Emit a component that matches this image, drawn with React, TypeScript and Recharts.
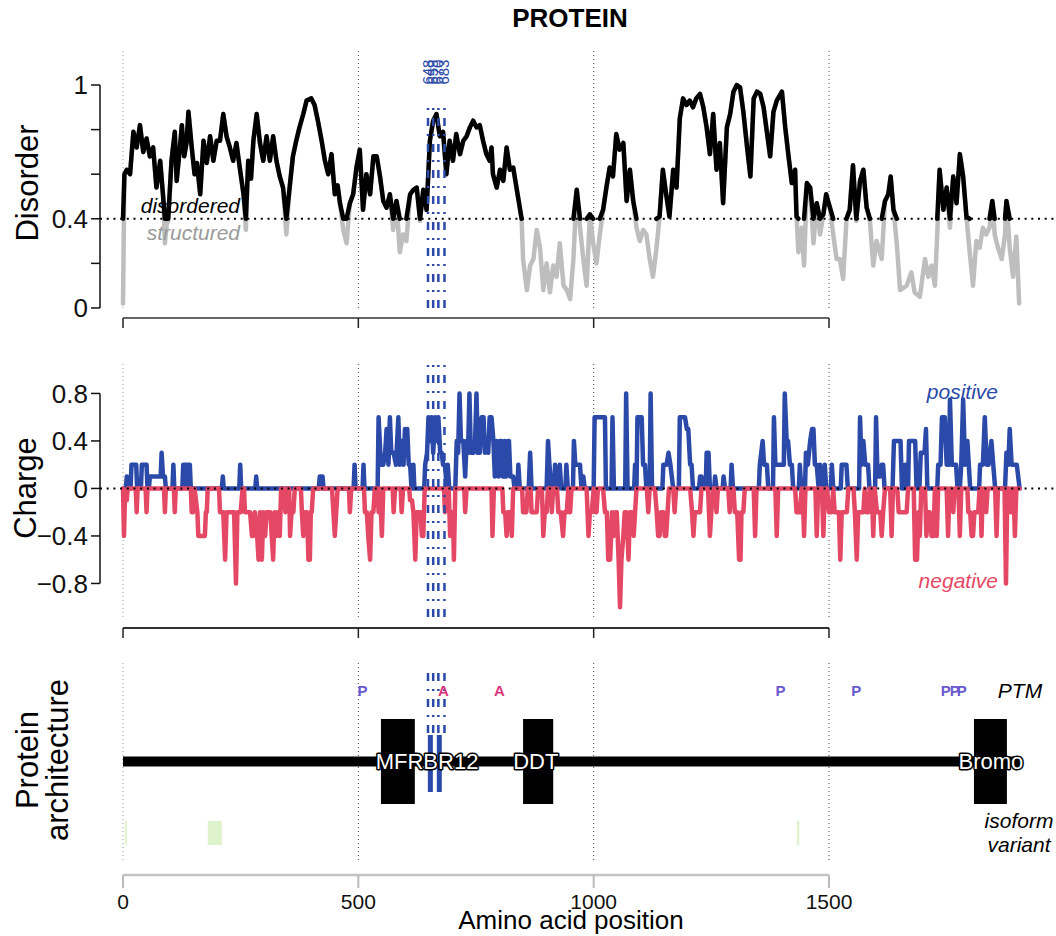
import React from 'react';
import { ComposedChart, Line, XAxis, YAxis, ReferenceLine, ReferenceArea, ReferenceDot } from 'recharts';

const FONT = '"Liberation Sans", Arial, Helvetica, sans-serif';
const X_DOMAIN: [number, number] = [-48.9, 1982.3];
const X_TICKS = [0, 500, 1000, 1500];
const PROTEIN_LENGTH = 1905;
const THRESH = 0.4;

const BLUE = '#2a49a8';
const RED = '#e54864';
const GRAY = '#bebebe';

// disorder score along the sequence (aa position, score)
const disorderPos = [
  0, 3, 8, 15, 22, 29, 36, 43, 50, 57, 64, 71, 79, 86, 89, 93, 96, 103, 110, 114,
  120, 125, 130, 135, 139, 146, 152, 157, 164, 171, 178, 185, 192, 199, 206, 213, 220, 227, 234, 241,
  248, 256, 261, 266, 272, 277, 284, 291, 298, 305, 312, 319, 326, 333, 340, 347, 354, 361, 368, 375,
  383, 390, 400, 407, 414, 422, 429, 436, 443, 450, 456, 461, 468, 475, 482, 489, 496, 503, 510, 517,
  525, 532, 539, 546, 553, 560, 567, 574, 581, 588, 595, 602, 610, 617, 624, 631, 638, 645, 652, 659,
  666, 673, 680, 687, 694, 701, 708, 716, 723, 730, 737, 744, 751, 758, 765, 772, 779, 783, 786, 794,
  801, 808, 815, 822, 829, 836, 843, 847, 850, 858, 865, 872, 879, 886, 893, 900, 907, 914, 921, 928,
  936, 943, 950, 957, 964, 971, 978, 985, 992, 999, 1006, 1013, 1020, 1027, 1034, 1041, 1048, 1055, 1063, 1070,
  1077, 1084, 1091, 1098, 1105, 1112, 1119, 1126, 1133, 1140, 1147, 1154, 1161, 1169, 1176, 1183, 1190, 1197, 1204, 1211,
  1218, 1226, 1233, 1240, 1247, 1254, 1261, 1268, 1275, 1283, 1290, 1297, 1304, 1311, 1318, 1326, 1333, 1340, 1347, 1354,
  1361, 1368, 1375, 1382, 1389, 1400, 1407, 1414, 1421, 1428, 1431, 1435, 1442, 1447, 1453, 1460, 1467, 1474, 1481, 1488,
  1494, 1502, 1509, 1516, 1523, 1530, 1537, 1544, 1551, 1558, 1566, 1573, 1580, 1587, 1594, 1601, 1612, 1619, 1626, 1631,
  1637, 1644, 1651, 1665, 1675, 1682, 1693, 1704, 1711, 1718, 1725, 1730, 1735, 1743, 1750, 1757, 1764, 1771, 1778, 1785,
  1792, 1799, 1806, 1813, 1820, 1827, 1834, 1841, 1847, 1852, 1859, 1867, 1874, 1877, 1884, 1891, 1898, 1904,
];
const disorderVal = [
  0.02, 0.6, 0.62, 0.6, 0.79, 0.72, 0.82, 0.7, 0.76, 0.68, 0.72, 0.54, 0.66, 0.48, 0.29, 0.38, 0.39, 0.66, 0.79, 0.57,
  0.7, 0.82, 0.68, 0.74, 0.88, 0.72, 0.6, 0.65, 0.51, 0.75, 0.65, 0.77, 0.66, 0.75, 0.75, 0.87, 0.77, 0.72, 0.66, 0.74,
  0.63, 0.51, 0.35, 0.66, 0.58, 0.75, 0.87, 0.74, 0.66, 0.77, 0.66, 0.77, 0.66, 0.59, 0.54, 0.33, 0.54, 0.68, 0.75, 0.81,
  0.87, 0.93, 0.94, 0.91, 0.84, 0.75, 0.66, 0.6, 0.69, 0.51, 0.55, 0.47, 0.35, 0.29, 0.47, 0.51, 0.63, 0.71, 0.44, 0.6,
  0.51, 0.68, 0.68, 0.59, 0.48, 0.45, 0.51, 0.35, 0.48, 0.25, 0.33, 0.3, 0.51, 0.53, 0.54, 0.39, 0.53, 0.44, 0.75, 0.84,
  0.87, 0.77, 0.79, 0.6, 0.75, 0.66, 0.78, 0.69, 0.75, 0.77, 0.81, 0.84, 0.81, 0.82, 0.75, 0.69, 0.66, 0.72, 0.6, 0.54,
  0.62, 0.57, 0.72, 0.62, 0.63, 0.54, 0.45, 0.39, 0.22, 0.08, 0.19, 0.22, 0.35, 0.27, 0.08, 0.2, 0.07, 0.19, 0.14, 0.29,
  0.1, 0.08, 0.04, 0.22, 0.53, 0.36, 0.22, 0.1, 0.42, 0.29, 0.2, 0.33, 0.44, 0.54, 0.63, 0.59, 0.78, 0.71, 0.74, 0.48,
  0.62, 0.48, 0.36, 0.3, 0.35, 0.33, 0.22, 0.14, 0.26, 0.41, 0.62, 0.51, 0.41, 0.62, 0.54, 0.85, 0.94, 0.91, 0.93, 0.9,
  0.94, 0.96, 0.9, 0.81, 0.69, 0.87, 0.62, 0.74, 0.47, 0.81, 0.87, 0.97, 1.0, 0.99, 0.88, 0.72, 0.59, 0.94, 0.97, 0.96,
  0.9, 0.79, 0.68, 0.88, 0.93, 0.97, 0.81, 0.68, 0.56, 0.62, 0.41, 0.25, 0.36, 0.19, 0.56, 0.54, 0.29, 0.47, 0.33, 0.42,
  0.51, 0.45, 0.33, 0.22, 0.22, 0.13, 0.39, 0.44, 0.64, 0.39, 0.57, 0.62, 0.45, 0.39, 0.19, 0.3, 0.22, 0.48, 0.51, 0.59,
  0.44, 0.29, 0.08, 0.1, 0.16, 0.07, 0.05, 0.22, 0.14, 0.19, 0.1, 0.33, 0.62, 0.44, 0.54, 0.36, 0.59, 0.47, 0.69, 0.59,
  0.41, 0.25, 0.1, 0.3, 0.27, 0.36, 0.33, 0.36, 0.48, 0.33, 0.27, 0.22, 0.33, 0.48, 0.27, 0.14, 0.32, 0.02,
];

// positive charge fraction (aa position, value)
const posChargePos = [
  0, 6, 8, 10, 16, 18, 28, 30, 38, 40, 50, 52, 55, 57, 72, 80, 82, 85, 89, 91,
  105, 107, 109, 126, 128, 134, 136, 138, 142, 144, 210, 212, 214, 247, 249, 251, 281, 283, 285, 416,
  418, 424, 426, 490, 492, 494, 509, 511, 513, 541, 543, 548, 553, 557, 560, 564, 567, 570, 575, 580,
  585, 588, 592, 596, 599, 602, 604, 607, 610, 613, 615, 617, 619, 640, 642, 646, 649, 652, 656, 659,
  663, 666, 670, 674, 677, 680, 684, 688, 690, 693, 706, 709, 712, 715, 718, 723, 727, 730, 733, 736,
  739, 745, 748, 751, 754, 758, 762, 766, 769, 772, 776, 779, 783, 787, 790, 794, 798, 801, 804, 807,
  811, 814, 818, 820, 823, 829, 832, 838, 840, 843, 862, 865, 868, 900, 903, 906, 910, 916, 918, 921,
  926, 928, 931, 940, 942, 945, 956, 958, 961, 968, 971, 974, 978, 981, 1000, 1002, 1012, 1015, 1024, 1026,
  1038, 1040, 1043, 1067, 1069, 1072, 1086, 1088, 1091, 1093, 1102, 1105, 1109, 1112, 1119, 1121, 1124, 1146, 1148, 1155,
  1159, 1163, 1166, 1169, 1181, 1183, 1194, 1198, 1201, 1205, 1208, 1211, 1224, 1226, 1229, 1232, 1238, 1240, 1244, 1247,
  1256, 1258, 1261, 1274, 1276, 1279, 1291, 1293, 1296, 1351, 1353, 1359, 1362, 1368, 1371, 1381, 1383, 1386, 1393, 1396,
  1404, 1406, 1410, 1413, 1417, 1421, 1424, 1436, 1438, 1441, 1449, 1451, 1455, 1460, 1464, 1467, 1470, 1474, 1478, 1481,
  1484, 1489, 1491, 1494, 1504, 1506, 1509, 1525, 1527, 1537, 1540, 1564, 1566, 1569, 1573, 1577, 1583, 1586, 1598, 1600,
  1603, 1608, 1612, 1615, 1618, 1635, 1638, 1652, 1655, 1660, 1662, 1665, 1668, 1670, 1683, 1686, 1692, 1695, 1703, 1706,
  1709, 1730, 1732, 1737, 1740, 1746, 1750, 1755, 1757, 1761, 1770, 1773, 1778, 1781, 1785, 1789, 1794, 1797, 1800, 1819,
  1821, 1827, 1831, 1835, 1839, 1845, 1849, 1853, 1874, 1877, 1881, 1884, 1888, 1893, 1899, 1905,
];
const posChargeVal = [
  0, 0, 0.1, 0, 0, 0.2, 0.2, 0, 0, 0.2, 0.2, 0, 0, 0.1, 0.1, 0.1, 0.3, 0.1, 0.1, 0,
  0, 0.2, 0, 0, 0.2, 0.2, 0, 0.2, 0.2, 0, 0, 0.1, 0, 0, 0.2, 0, 0, 0.1, 0, 0,
  0.1, 0.1, 0, 0, 0.2, 0, 0, 0.2, 0, 0, 0.6, 0.2, 0.2, 0.3, 0.5, 0.2, 0.6, 0.3, 0.3, 0.2,
  0.6, 0.2, 0.4, 0.2, 0.5, 0.3, 0.5, 0.2, 0.2, 0, 0, 0.2, 0, 0, 0.2, 0.3, 0.6, 0.4, 0.6, 0.3,
  0.6, 0.4, 0.6, 0.3, 0.3, 0.2, 0.2, 0, 0.2, 0, 0, 0.4, 0.3, 0.8, 0.4, 0.4, 0.1, 0.4, 0.3, 0.8,
  0.3, 0.3, 0.4, 0.8, 0.3, 0.3, 0.6, 0.6, 0.3, 0.4, 0.3, 0.6, 0.6, 0.4, 0.1, 0.4, 0.1, 0.4, 0.4, 0.1,
  0.4, 0.1, 0.4, 0.4, 0.1, 0.1, 0, 0, 0.2, 0, 0, 0.3, 0, 0, 0.4, 0.2, 0, 0, 0.2, 0,
  0, 0.2, 0, 0, 0.2, 0, 0, 0.4, 0.2, 0.2, 0.2, 0, 0.1, 0, 0, 0.6, 0.6, 0.6, 0.6, 0,
  0, 0.6, 0, 0, 0.8, 0, 0, 0.2, 0, 0.6, 0.6, 0.2, 0.2, 0, 0, 0.8, 0, 0, 0.2, 0.2,
  0.3, 0.2, 0.1, 0, 0, 0.6, 0.6, 0.5, 0.5, 0.2, 0.2, 0, 0, 0.1, 0.1, 0, 0, 0.3, 0.3, 0,
  0, 0.1, 0, 0, 0.1, 0, 0, 0.2, 0, 0, 0.2, 0.4, 0.2, 0.2, 0, 0, 0.6, 0.2, 0.2, 0.2,
  0.2, 0.8, 0.4, 0.4, 0.2, 0.2, 0, 0, 0.2, 0, 0, 0.3, 0.2, 0.4, 0.5, 0.5, 0.2, 0.2, 0, 0.2,
  0, 0, 0.2, 0, 0, 0.2, 0, 0, 0.2, 0.2, 0, 0, 0.6, 0.2, 0.4, 0.2, 0.2, 0, 0, 0.6,
  0.1, 0.1, 0.2, 0.2, 0, 0, 0.4, 0.4, 0, 0, 0.2, 0, 0, 0.4, 0.4, 0, 0, 0.3, 0.3, 0.5,
  0, 0, 0.2, 0.2, 0.6, 0.6, 0.2, 0.2, 0.75, 0.2, 0.2, 0, 0, 0.2, 0.75, 0.2, 0.4, 0.2, 0, 0,
  0.2, 0.2, 0.6, 0.2, 0.2, 0.4, 0.2, 0, 0, 0.3, 0.2, 0.5, 0.2, 0.2, 0.2, 0,
];

// negative charge fraction (aa position, value)
const negChargePos = [
  0, 2, 4, 8, 10, 27, 29, 31, 48, 50, 52, 87, 89, 91, 108, 110, 112, 144, 146, 149,
  152, 158, 160, 174, 176, 178, 180, 204, 206, 213, 217, 220, 227, 233, 236, 240, 243, 250, 254, 257,
  259, 262, 266, 270, 274, 277, 280, 285, 288, 291, 295, 298, 302, 305, 309, 313, 316, 319, 322, 326,
  329, 333, 336, 340, 345, 348, 353, 355, 358, 362, 365, 378, 380, 383, 387, 391, 394, 397, 399, 401,
  404, 444, 447, 450, 453, 456, 480, 482, 485, 512, 514, 518, 521, 525, 528, 532, 535, 541, 543, 547,
  548, 550, 553, 573, 575, 578, 590, 592, 595, 608, 610, 614, 617, 621, 624, 628, 632, 635, 638, 641,
  682, 684, 687, 692, 695, 698, 701, 703, 706, 725, 727, 730, 783, 785, 788, 806, 808, 812, 815, 818,
  823, 826, 829, 848, 850, 857, 860, 866, 868, 872, 876, 879, 882, 890, 893, 896, 900, 903, 909, 911,
  914, 922, 925, 930, 935, 938, 943, 946, 948, 950, 953, 985, 987, 989, 992, 996, 1000, 1004, 1006, 1009,
  1020, 1024, 1028, 1031, 1035, 1039, 1042, 1046, 1049, 1053, 1056, 1059, 1063, 1066, 1070, 1074, 1077, 1082, 1085, 1088,
  1091, 1113, 1116, 1119, 1130, 1134, 1137, 1140, 1143, 1148, 1151, 1154, 1157, 1160, 1169, 1172, 1175, 1205, 1209, 1212,
  1215, 1219, 1222, 1226, 1229, 1243, 1245, 1247, 1250, 1254, 1258, 1261, 1264, 1286, 1289, 1292, 1297, 1300, 1305, 1309,
  1312, 1314, 1318, 1321, 1340, 1343, 1346, 1386, 1389, 1392, 1428, 1431, 1438, 1442, 1444, 1447, 1450, 1471, 1474, 1477,
  1485, 1488, 1491, 1496, 1500, 1506, 1509, 1512, 1516, 1521, 1524, 1527, 1531, 1535, 1538, 1541, 1552, 1555, 1559, 1562,
  1566, 1570, 1573, 1576, 1580, 1584, 1587, 1591, 1594, 1597, 1602, 1606, 1609, 1612, 1615, 1619, 1630, 1633, 1636, 1645,
  1648, 1651, 1655, 1658, 1662, 1665, 1668, 1680, 1683, 1687, 1690, 1693, 1696, 1704, 1707, 1710, 1714, 1718, 1722, 1725,
  1729, 1732, 1750, 1753, 1756, 1761, 1764, 1767, 1775, 1778, 1781, 1794, 1796, 1800, 1803, 1806, 1809, 1813, 1817, 1820,
  1822, 1824, 1827, 1831, 1834, 1837, 1853, 1856, 1859, 1873, 1876, 1879, 1884, 1886, 1890, 1892, 1895, 1898, 1905,
];
const negChargeVal = [
  0, -0.4, -0.1, -0.1, 0, 0, -0.2, 0, 0, -0.2, 0, 0, -0.2, 0, 0, -0.2, 0, 0, -0.2, -0.2,
  0, -0.2, -0.4, -0.4, -0.2, -0.2, 0, 0, -0.2, -0.2, -0.6, -0.2, -0.2, -0.2, -0.2, -0.8, -0.2, -0.2, 0, 0,
  -0.2, -0.2, -0.2, -0.2, -0.4, -0.4, -0.2, -0.4, -0.6, -0.2, -0.6, -0.2, -0.4, -0.2, -0.2, -0.2, -0.4, -0.6, -0.2, -0.4,
  -0.2, -0.4, 0, 0, -0.2, 0, 0, -0.4, -0.2, -0.2, 0, 0, -0.2, -0.4, -0.2, -0.2, -0.6, -0.6, -0.2, -0.2,
  0, 0, -0.2, -0.4, -0.2, 0, 0, -0.2, 0, 0, -0.2, -0.2, -0.4, -0.6, -0.2, -0.2, 0, 0, -0.2, 0,
  -0.2, -0.4, 0, 0, -0.2, 0, 0, -0.2, 0, 0, -0.1, -0.1, -0.2, -0.6, -0.2, -0.2, -0.2, -0.4, -0.4, 0,
  0, -0.2, 0, 0, -0.4, -0.2, -0.2, -0.6, 0, 0, -0.2, 0, 0, -0.4, 0, 0, -0.2, -0.2, -0.4, -0.2,
  -0.2, -0.4, 0, 0, -0.2, -0.2, 0, 0, -0.2, -0.2, -0.2, -0.2, 0, 0, -0.4, -0.2, -0.2, 0, 0, -0.2,
  0, 0, -0.2, -0.2, -0.4, -0.2, -0.2, 0, -0.2, -0.2, 0, 0, -0.2, -0.4, -0.2, -0.2, 0, -0.2, -0.2, 0,
  0, -0.2, -0.2, -0.6, -0.6, -0.2, -0.4, -0.2, -0.2, -0.6, -1.0, -0.6, -0.4, -0.2, -0.2, -0.6, -0.2, -0.2, -0.4, -0.2,
  0, 0, -0.2, 0, 0, -0.2, -0.4, -0.4, -0.2, -0.2, -0.4, -0.4, -0.2, 0, 0, -0.2, 0, 0, -0.2, -0.4,
  -0.2, -0.2, -0.2, -0.2, 0, 0, -0.2, -0.4, -0.2, 0, 0, -0.2, 0, 0, -0.2, 0, 0, -0.2, -0.2, -0.6,
  -0.6, -0.2, -0.2, 0, 0, -0.4, 0, 0, -0.4, 0, 0, -0.2, -0.2, 0, 0, -0.4, 0, 0, -0.4, 0,
  0, -0.4, 0, 0, -0.2, -0.2, 0, -0.2, -0.2, -0.2, -0.6, -0.2, -0.2, -0.2, -0.2, 0, 0, -0.2, -0.6, -0.2,
  -0.2, -0.2, -0.2, 0, -0.2, -0.2, 0, 0, -0.4, 0, -0.2, -0.2, -0.2, -0.4, -0.2, 0, 0, -0.4, 0, 0,
  -0.2, -0.2, -0.2, -0.2, -0.2, -0.2, 0, 0, -0.6, -0.6, -0.2, -0.4, 0, 0, -0.4, -0.2, -0.2, -0.4, -0.4, 0,
  -0.4, 0, 0, -0.4, 0, 0, -0.2, 0, 0, -0.4, 0, 0, -0.2, -0.2, -0.4, -0.4, -0.2, -0.2, -0.2, 0,
  0, -0.4, 0, 0, -0.2, 0, 0, -0.4, 0, 0, -0.8, 0, 0, -0.2, 0, 0, -0.4, 0, 0,
];

// protein architecture
const domainStart = [548, 850, 1808];
const domainEnd = [620, 914, 1878];
const domainLabels = ['MFRBR12', 'DDT', 'Bromo'];
const domainLabelPos = [646, 877, 1844];

const ptmPos = [509, 681, 800, 1397, 1558, 1748, 1767, 1782];
const ptmType = ['P', 'A', 'A', 'P', 'P', 'P', 'P', 'P'];

const isoformStart = [4, 180, 1432];
const isoformEnd = [8, 210, 1437];

const variantPos = [648, 659, 670, 683];
const variantLabels = ['648', '659', '670', '683'];
const variantBarPos = [653, 672];

const disorderRows = disorderPos.map((x, i) => {
  const v = disorderVal[i];
  const prev = i > 0 ? disorderVal[i - 1] : -1;
  const next = i < disorderVal.length - 1 ? disorderVal[i + 1] : -1;
  let hi: number | null = null;
  if (v >= THRESH) hi = v;
  else if (prev >= THRESH || next >= THRESH) hi = THRESH;
  return { x, d: v, hi };
});

const chargeRows = [
  ...posChargePos.map((x, i) => ({ x, pos: posChargeVal[i] as number | undefined, neg: undefined as number | undefined })),
  ...negChargePos.map((x, i) => ({ x, pos: undefined as number | undefined, neg: negChargeVal[i] as number | undefined })),
].sort((a, b) => a.x - b.x);

const backboneRows = [
  { x: 0, y: 2.27 },
  { x: PROTEIN_LENGTH, y: 2.27 },
];

const PTM_COLORS: Record<string, string> = { P: '#6a5acd', A: '#d9367a' };

const gridLines = (y1: number, y2: number) =>
  X_TICKS.map((t) => (
    <ReferenceLine
      key={`g${t}`}
      segment={[{ x: t, y: y1 }, { x: t, y: y2 }]}
      stroke={t === 0 ? '#999' : '#444'}
      strokeDasharray="1 3"
      strokeWidth={1}
      ifOverflow="visible"
    />
  ));

const variantLines = (y1: number, y2: number) =>
  variantPos.map((p) => (
    <ReferenceLine
      key={`v${p}`}
      segment={[{ x: p, y: y1 }, { x: p, y: y2 }]}
      stroke={BLUE}
      strokeDasharray="8 8 2 8"
      strokeWidth={2.5}
      ifOverflow="visible"
    />
  ));

const tickFont = { fontSize: 26, fill: '#111', fontFamily: FONT };

const App = () => {
  return (
    <div style={{ position: 'absolute', left: 0, top: 0, width: 1056, height: 936, background: '#fff', fontFamily: FONT }}>
      {/* Disorder panel */}
      <div style={{ position: 'absolute', left: 0, top: 0 }}>
        <ComposedChart width={1056} height={340} data={disorderRows} margin={{ top: 48, right: 0, bottom: 10, left: 0 }}>
          <XAxis
            type="number"
            dataKey="x"
            domain={X_DOMAIN}
            allowDataOverflow
            ticks={X_TICKS}
            tickFormatter={() => ''}
            axisLine={false}
            tickLine={{ stroke: '#222', strokeWidth: 1.5 }}
            tickSize={10}
            height={12}
          />
          <YAxis
            type="number"
            domain={[-0.045, 1.166]}
            allowDataOverflow
            ticks={[0, 0.2, 0.4, 0.6, 0.8, 1]}
            tickFormatter={(v: number) => (v === 0 || v === 0.4 || v === 1 ? String(v) : '')}
            axisLine={false}
            tickLine={{ stroke: '#111', strokeWidth: 1.5 }}
            tickSize={9}
            tickMargin={3}
            tick={tickFont}
            width={100}
          />
          {gridLines(0, 1.166)}
          <ReferenceLine segment={[{ x: X_DOMAIN[0], y: 0 }, { x: X_DOMAIN[0], y: 1 }]} stroke="#111" strokeWidth={1.5} ifOverflow="visible" />
          <ReferenceLine segment={[{ x: 0, y: -0.045 }, { x: 1500, y: -0.045 }]} stroke="#666" strokeWidth={2} ifOverflow="visible" />
          <Line type="linear" dataKey="d" stroke={GRAY} strokeWidth={4.5} dot={false} activeDot={false} isAnimationActive={false} strokeLinejoin="round" strokeLinecap="round" />
          <Line type="linear" dataKey="hi" stroke="#000" strokeWidth={4.5} dot={false} activeDot={false} connectNulls={false} isAnimationActive={false} strokeLinejoin="round" strokeLinecap="round" />
          <ReferenceLine y={THRESH} stroke="#000" strokeDasharray="2 4.7" strokeWidth={2} />
          {variantLines(0, 0.92)}
          {variantPos.map((p, i) => (
            <ReferenceDot
              key={`vl${p}`}
              x={p}
              y={1.058}
              r={0}
              ifOverflow="visible"
              shape={(props: any) => (
                <text
                  x={props.cx}
                  y={props.cy}
                  transform={`rotate(-90 ${props.cx} ${props.cy})`}
                  textAnchor="middle"
                  dy={5}
                  fontSize={15}
                  fill={BLUE}
                  fontFamily={FONT}
                >
                  {variantLabels[i]}
                </text>
              )}
            />
          ))}
        </ComposedChart>
      </div>

      {/* Charge panel */}
      <div style={{ position: 'absolute', left: 0, top: 340 }}>
        <ComposedChart width={1056} height={310} data={chargeRows} margin={{ top: 24, right: 0, bottom: 10, left: 0 }}>
          <XAxis
            type="number"
            dataKey="x"
            domain={X_DOMAIN}
            allowDataOverflow
            ticks={X_TICKS}
            tickFormatter={() => ''}
            axisLine={false}
            tickLine={{ stroke: '#222', strokeWidth: 1.5 }}
            tickSize={10}
            height={12}
          />
          <YAxis
            type="number"
            domain={[-1.175, 1.048]}
            allowDataOverflow
            ticks={[-0.8, -0.4, 0, 0.4, 0.8]}
            tickFormatter={(v: number) => (v < 0 ? `\u2212${Math.abs(v)}` : String(v))}
            axisLine={false}
            tickLine={{ stroke: '#111', strokeWidth: 1.5 }}
            tickSize={9}
            tickMargin={3}
            tick={tickFont}
            width={100}
          />
          {gridLines(-1.082, 1.048)}
          <ReferenceLine segment={[{ x: X_DOMAIN[0], y: -0.8 }, { x: X_DOMAIN[0], y: 0.8 }]} stroke="#111" strokeWidth={1.5} ifOverflow="visible" />
          <ReferenceLine segment={[{ x: 0, y: -1.175 }, { x: 1500, y: -1.175 }]} stroke="#333" strokeWidth={2} ifOverflow="visible" />
          <Line type="linear" dataKey="pos" stroke={BLUE} strokeWidth={4.5} dot={false} activeDot={false} connectNulls isAnimationActive={false} strokeLinejoin="round" strokeLinecap="round" />
          <Line type="linear" dataKey="neg" stroke={RED} strokeWidth={4.5} dot={false} activeDot={false} connectNulls isAnimationActive={false} strokeLinejoin="round" strokeLinecap="round" />
          <ReferenceLine y={0} stroke="#000" strokeDasharray="2 4.7" strokeWidth={2} />
          {variantLines(-1.082, 1.048)}
        </ComposedChart>
      </div>

      {/* Protein architecture panel */}
      <div style={{ position: 'absolute', left: 0, top: 640 }}>
        <ComposedChart width={1056} height={296} data={backboneRows} margin={{ top: 10, right: 0, bottom: 21, left: 0 }}>
          <XAxis
            type="number"
            dataKey="x"
            domain={X_DOMAIN}
            allowDataOverflow
            ticks={X_TICKS}
            axisLine={false}
            tickLine={{ stroke: '#bbb', strokeWidth: 2 }}
            tickSize={13}
            tickMargin={6}
            tick={{ fontSize: 21, fill: '#111', fontFamily: FONT }}
            height={40}
          />
          <YAxis type="number" domain={[0, 4.5]} allowDataOverflow tick={false} axisLine={false} tickLine={false} width={100} />
          {gridLines(0.3, 4.26)}
          <ReferenceLine segment={[{ x: 0, y: 0 }, { x: 1500, y: 0 }]} stroke="#c4c4c4" strokeWidth={2.5} ifOverflow="visible" />
          {isoformStart.map((s, i) => (
            <ReferenceArea key={`iso${i}`} x1={s} x2={isoformEnd[i]} y1={0.6} y2={1.08} fill="#def3cc" fillOpacity={1} stroke="none" ifOverflow="visible" />
          ))}
          <Line type="linear" dataKey="y" stroke="#000" strokeWidth={10} dot={false} activeDot={false} isAnimationActive={false} strokeLinecap="butt" />
          {domainStart.map((s, i) => (
            <ReferenceArea key={`dom${i}`} x1={s} x2={domainEnd[i]} y1={1.42} y2={3.12} fill="#000" fillOpacity={1} stroke="none" ifOverflow="visible" />
          ))}
          {variantLines(2.84, 4.16)}
          {variantBarPos.map((p) => (
            <ReferenceLine key={`vb${p}`} segment={[{ x: p, y: 1.66 }, { x: p, y: 2.8 }]} stroke={BLUE} strokeWidth={5} ifOverflow="visible" />
          ))}
          {ptmPos.map((p, i) => (
            <ReferenceDot
              key={`ptm${i}`}
              x={p}
              y={3.686}
              r={0}
              ifOverflow="visible"
              shape={(props: any) => (
                <text x={props.cx} y={props.cy} dy={5.4} textAnchor="middle" fontSize={15} fontWeight="bold" fill={PTM_COLORS[ptmType[i]]} fontFamily={FONT}>
                  {ptmType[i]}
                </text>
              )}
            />
          ))}
          {domainLabels.map((lab, i) => (
            <ReferenceDot
              key={`dl${i}`}
              x={domainLabelPos[i]}
              y={2.27}
              r={0}
              ifOverflow="visible"
              shape={(props: any) => (
                <text
                  x={props.cx}
                  y={props.cy}
                  dy={7.8}
                  textAnchor="middle"
                  fontSize={22}
                  fill="#fff"
                  stroke="#000"
                  strokeWidth={3}
                  paintOrder="stroke"
                  strokeLinejoin="round"
                  fontFamily={FONT}
                >
                  {lab}
                </text>
              )}
            />
          ))}
        </ComposedChart>
      </div>

      {/* titles and annotations */}
      <svg width={1056} height={936} style={{ position: 'absolute', left: 0, top: 0, pointerEvents: 'none' }} fontFamily={FONT}>
        <text x={570} y={27} textAnchor="middle" fontSize={26} fontWeight="bold" fill="#000">PROTEIN</text>
        <text transform="translate(38,183) rotate(-90)" textAnchor="middle" fontSize={31} fill="#000">Disorder</text>
        <text transform="translate(36,488) rotate(-90)" textAnchor="middle" fontSize={31} fill="#000">Charge</text>
        <text transform="translate(38,760) rotate(-90)" textAnchor="middle" fontSize={31} fill="#000">Protein</text>
        <text transform="translate(67.5,760) rotate(-90)" textAnchor="middle" fontSize={31} fill="#000">architecture</text>
        <text x={240} y={213} textAnchor="end" fontSize={21} fontStyle="italic" fill="#000">disordered</text>
        <text x={240} y={240} textAnchor="end" fontSize={21} fontStyle="italic" fill="#9a9a9a">structured</text>
        <text x={998} y={399} textAnchor="end" fontSize={21} fontStyle="italic" fill={BLUE}>positive</text>
        <text x={998} y={588} textAnchor="end" fontSize={21} fontStyle="italic" fill={RED}>negative</text>
        <text x={1020} y={698} textAnchor="middle" fontSize={21} fontStyle="italic" fill="#000">PTM</text>
        <text x={1019} y={828} textAnchor="middle" fontSize={21} fontStyle="italic" fill="#000">isoform</text>
        <text x={1019} y={852} textAnchor="middle" fontSize={21} fontStyle="italic" fill="#000">variant</text>
        <text x={571} y={929} textAnchor="middle" fontSize={26} fill="#000">Amino acid position</text>
      </svg>
    </div>
  );
};

export default App;
